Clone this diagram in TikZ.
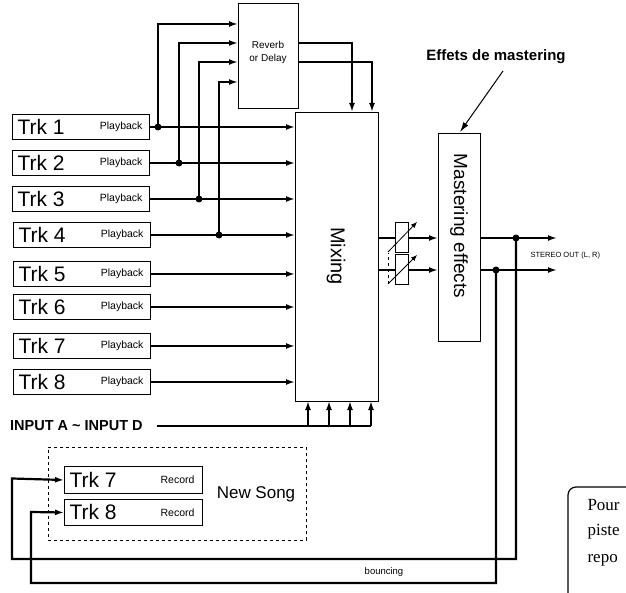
\documentclass[tikz,border=0pt]{standalone}
\usepackage{fontspec}
\setmainfont{Liberation Sans}
\newfontfamily\serifcut{Liberation Serif}
\usetikzlibrary{arrows.meta}
\begin{document}
\begin{tikzpicture}[x=1pt,y=-1pt,
  box/.style={draw,line width=1pt,inner sep=0pt},
  sig/.style={line width=2.2pt},
  arr/.style={sig,-{Latex[length=9pt,width=6pt]}},
  dot/.style={circle,fill,inner sep=0pt,minimum size=7pt},
  trk/.style={font=\fontsize{21}{21}\selectfont,anchor=west},
  pb/.style={font=\fontsize{10.5}{10.5}\selectfont,anchor=east}]
\useasboundingbox (0,0) rectangle (626,593);
\clip (0,0) rectangle (626,593);
% track playback boxes
\foreach \i/\y/\l/\r in {1/127/12/149,2/163/12/149,3/199/12/149,4/235/13/150,5/274/13/150,6/307/13/150,7/346/13/150,8/382/13/150}{
  \node[box,minimum width={\r-\l},minimum height=25pt,anchor=west] (t\i) at (\l,\y) {};
  \node[trk] (tl\i) at (\l+2,\y) {Trk \i};
  \node[pb] (tp\i) at (\r-3,\y) {Playback};
}
% mixing
\node[box,minimum width=83pt,minimum height=289pt,anchor=north west] (mix) at (295,112) {};
\node[rotate=-90,font=\fontsize{20}{20}\selectfont] (mixl) at (336,256) {Mixing};
% reverb
\node[box,minimum width=60pt,minimum height=105pt,anchor=north west] (rev) at (238,3) {};
\node[font=\fontsize{10}{13}\selectfont,align=center] (revl) at (268,52) {Reverb\\or Delay};
% mastering
\node[box,minimum width=42pt,minimum height=208pt,anchor=north west] (mast) at (438,133) {};
\node[rotate=-90,font=\fontsize{19}{19}\selectfont] (mastl) at (459,226) {Mastering effects};
% track to mixing
\foreach \i/\y in {1/127,2/163,3/199,4/235,5/274,6/307,7/346,8/382}{
  \coordinate (m\i) at (295,\y);
  \draw[arr] (t\i.east) -- (m\i);
}
% sends to reverb
\foreach \i/\x/\y/\ry in {1/158/127/24,2/179/163/43,3/199/199/62,4/219/235/82}{
  \node[dot] (d\i) at (\x,\y) {};
  \coordinate (r\i) at (238,\ry);
  \draw[arr] (d\i.center) |- (r\i);
}
% reverb returns
\coordinate (ro1) at (298,43); \coordinate (ri1) at (352,112);
\coordinate (ro2) at (298,62); \coordinate (ri2) at (372,112);
\draw[arr] (ro1) -| (ri1);
\draw[arr] (ro2) -| (ri2);
% faders
\node[box,minimum width=13pt,minimum height=30pt] (f1) at (401.5,238) {};
\node[box,minimum width=13pt,minimum height=30pt] (f2) at (401.5,270) {};
\coordinate (mo1) at (378,238); \coordinate (mo2) at (378,270);
\coordinate (mi1) at (438,238); \coordinate (mi2) at (438,270);
\draw[sig] (mo1) -- (f1.west); \draw[arr] (f1.east) -- (mi1);
\draw[sig] (mo2) -- (f2.west); \draw[arr] (f2.east) -- (mi2);
\draw[line width=0.8pt,-{Latex[length=6pt,width=5pt]}] (388,252) -- (417,222);
\draw[line width=0.8pt,-{Latex[length=6pt,width=5pt]}] (388,284) -- (417,255);
\draw[line width=0.8pt,dashed] (388,284) -- (388,253);
% outputs
\coordinate (o1) at (557,238); \coordinate (o2) at (557,270);
\coordinate (mq1) at (480,238); \coordinate (mq2) at (480,270);
\draw[arr] (mq1) -- (o1);
\draw[arr] (mq2) -- (o2);
\node[dot] (j1) at (516,238) {};
\node[dot] (j2) at (496,270) {};
\node[font=\fontsize{7.5}{7.5}\selectfont,anchor=west] (so) at (527,256) {STEREO OUT (L, R)};
% record section
\node[box,dashed,line width=0.7pt,minimum width=258pt,minimum height=93pt,anchor=north west] (ns) at (48,447) {};
\node[box,minimum width=138pt,minimum height=27pt,anchor=north west] (r7) at (64,466) {};
\node[trk] at (66,479.5) {Trk 7};
\node[pb] at (198,479.5) {Record};
\node[box,minimum width=138pt,minimum height=26pt,anchor=north west] (r8) at (64,499) {};
\node[trk] at (66,512) {Trk 8};
\node[pb] at (198,513) {Record};
\node[font=\fontsize{17}{17}\selectfont] (nsl) at (256,494) {New Song};
% bounce
\coordinate (b1a) at (516,559); \coordinate (b1b) at (12,559); \coordinate (b1c) at (12,478.5);
\draw[arr] (j1.center) -- (b1a) -- (b1b) -- (b1c) -- (r7.west);
\coordinate (b2a) at (496,583); \coordinate (b2b) at (31,583); \coordinate (b2c) at (31,512);
\draw[arr] (j2.center) -- (b2a) -- (b2b) -- (b2c) -- (r8.west);
\node[font=\fontsize{9.5}{9.5}\selectfont] (bl) at (384,572) {bouncing};
% inputs
\node[font=\bfseries\fontsize{14.5}{14.5}\selectfont,anchor=west,inner sep=0pt] (inp) at (10,426) {INPUT A \textasciitilde\ INPUT D};
\coordinate (is) at (157,426);
\coordinate (ie) at (371,426);
\draw[sig] (is) -- (ie);
\foreach \x in {308,329,350,371}{
  \coordinate (ib\x) at (\x,426);
  \coordinate (it\x) at (\x,401);
  \draw[arr] (ib\x) -- (it\x);
}
% mastering annotation
\node[font=\bfseries\fontsize{15}{15}\selectfont] (em) at (496,57) {Effets de mastering};
\coordinate (emt) at (460,132);
\coordinate (ems) at (503,71);
\draw[line width=1pt,-{Latex[length=10pt,width=6pt]}] (ems) -- (emt);
% clipped note box
\draw[line width=1.2pt,rounded corners=8pt] (568,610) -- (568,487) -- (660,487);
\node[font=\serifcut\fontsize{17}{17}\selectfont,anchor=west] (n1) at (584,505) {Pour};
\node[font=\serifcut\fontsize{17}{17}\selectfont,anchor=west] (n2) at (584,532) {piste};
\node[font=\serifcut\fontsize{17}{17}\selectfont,anchor=west] (n3) at (584,560) {repo};
\end{tikzpicture}
\end{document}
